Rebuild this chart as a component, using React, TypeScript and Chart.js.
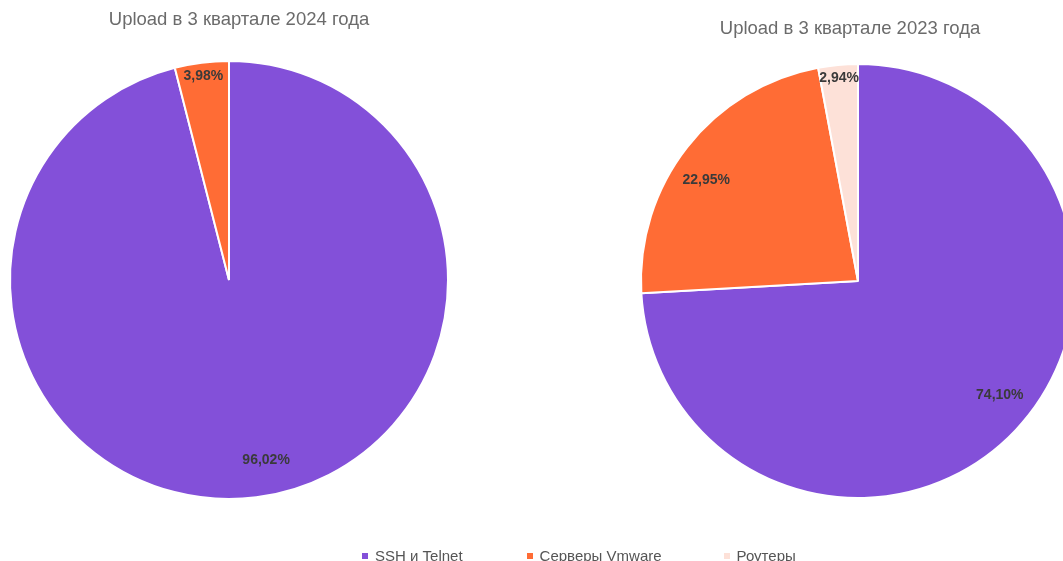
import React, { useEffect, useRef } from "react";
import { Chart, registerables } from "chart.js";

Chart.register(...registerables);

const categories = ["SSH и Telnet", "Серверы Vmware", "Роутеры"];
const values2024 = [96.02, 3.98, 0];
const values2023 = [74.1, 22.95, 2.94];
const title2024 = "Upload в 3 квартале 2024 года";
const title2023 = "Upload в 3 квартале 2023 года";
const colors = ["#8350D9", "#FF6C35", "#FDE1D8"];

const FONT = "'Liberation Sans', Arial, Helvetica, sans-serif";

const pieLabelPlugin = {
  id: "pieLabels",
  afterDatasetsDraw(chart: any) {
    const ctx = chart.ctx;
    const meta = chart.getDatasetMeta(0);
    const data = chart.data.datasets[0].data as number[];
    const total = data.reduce((a, b) => a + b, 0);
    ctx.save();
    ctx.font = `bold 14px ${FONT}`;
    ctx.fillStyle = "#3a3a3a";
    ctx.textAlign = "center";
    ctx.textBaseline = "middle";
    meta.data.forEach((arc: any, i: number) => {
      const v = data[i];
      if (!v) return;
      const pct = (v / total) * 100;
      const small = pct < 5;
      const mid = (arc.startAngle + arc.endAngle) / 2 - (small ? 0 : 0.078);
      const frac = small ? 0.94 : 0.84;
      const r = arc.outerRadius * frac;
      const x = arc.x + Math.cos(mid) * r;
      const y = arc.y + Math.sin(mid) * r;
      ctx.fillText(v.toFixed(2).replace(".", ",") + "%", x, y);
    });
    ctx.restore();
  },
};

const titlePlugin = {
  id: "sideTitle",
  afterDraw(chart: any, _args: any, opts: any) {
    const ctx = chart.ctx;
    ctx.save();
    ctx.font = `18.5px ${FONT}`;
    ctx.fillStyle = "#6b6b6b";
    ctx.textAlign = "center";
    ctx.textBaseline = "middle";
    ctx.fillText(opts.text, opts.x, opts.y);
    ctx.restore();
  },
};

function PieChart(props: {
  values: number[];
  title: string;
  left: number;
  width: number;
  padding: { left: number; right: number; top: number; bottom: number };
  titleX: number;
  titleY: number;
}) {
  const ref = useRef<HTMLCanvasElement | null>(null);
  useEffect(() => {
    if (!ref.current) return;
    const chart = new Chart(ref.current, {
      type: "pie",
      data: {
        labels: categories,
        datasets: [
          {
            data: props.values,
            backgroundColor: colors,
            borderColor: "#ffffff",
            borderWidth: 2,
          },
        ],
      },
      options: {
        responsive: false,
        maintainAspectRatio: false,
        animation: false,
        layout: { padding: props.padding },
        plugins: {
          legend: { display: false },
          title: { display: false },
          tooltip: { enabled: false },
          sideTitle: { text: props.title, x: props.titleX, y: props.titleY },
        } as any,
      },
      plugins: [pieLabelPlugin, titlePlugin],
    });
    return () => chart.destroy();
  }, []);
  return (
    <canvas
      ref={ref}
      width={props.width}
      height={561}
      style={{ position: "absolute", left: props.left, top: 0, width: props.width, height: 561 }}
    />
  );
}

const legendGaps = [0, 64, 62];

export default function App() {
  return (
    <div
      style={{
        position: "fixed",
        left: 0,
        top: 0,
        width: 1063,
        height: 561,
        overflow: "hidden",
        background: "#ffffff",
        fontFamily: FONT,
      }}
    >
      <PieChart
        values={values2024}
        title={title2024}
        left={0}
        width={458}
        padding={{ left: 9, right: 9, top: 60, bottom: 61 }}
        titleX={239}
        titleY={20}
      />
      <PieChart
        values={values2023}
        title={title2023}
        left={620}
        width={476}
        padding={{ left: 20, right: 20, top: 63, bottom: 62 }}
        titleX={230}
        titleY={29}
      />
      <div
        style={{
          position: "absolute",
          left: 362,
          top: 547,
          display: "flex",
          fontSize: 15,
          color: "#555555",
          whiteSpace: "nowrap",
          lineHeight: "18px",
        }}
      >
        {categories.map((c, i) => (
          <div key={c} style={{ display: "flex", alignItems: "center", marginLeft: legendGaps[i] }}>
            <span
              style={{
                display: "inline-block",
                width: 6,
                height: 6,
                background: colors[i],
                marginRight: 7,
              }}
            />
            <span>{c}</span>
          </div>
        ))}
      </div>
    </div>
  );
}
